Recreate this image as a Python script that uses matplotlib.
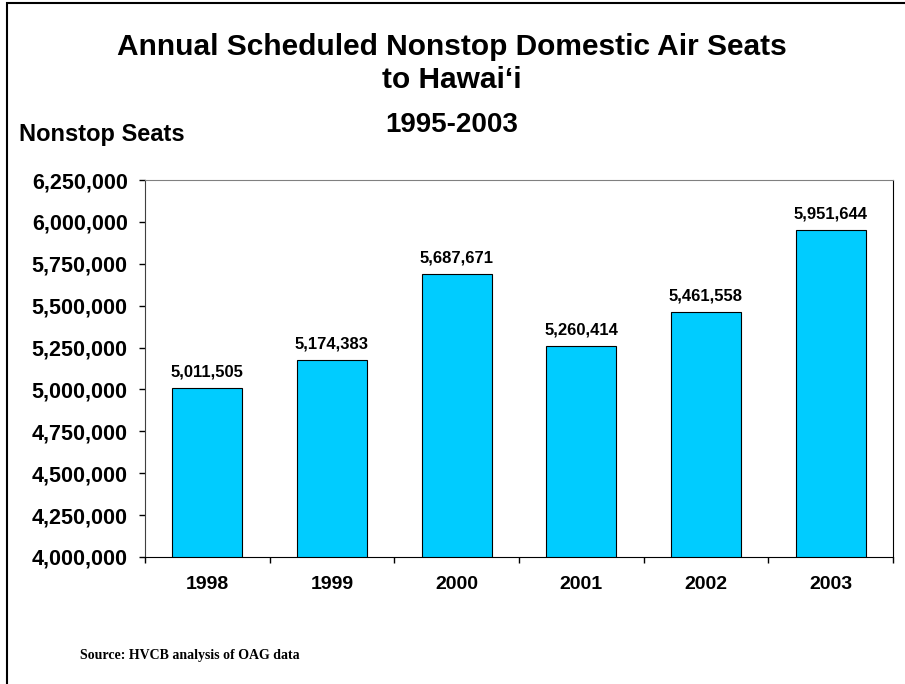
import matplotlib
matplotlib.use("Agg")
import matplotlib.pyplot as plt
from matplotlib.patches import Rectangle
from matplotlib.ticker import FuncFormatter, FixedLocator
import numpy as np

years = ["1998", "1999", "2000", "2001", "2002", "2003"]
seats = [5011505, 5174383, 5687671, 5260414, 5461558, 5951644]
yticks = np.arange(4000000, 6250001, 250000)

plt.rcParams['font.family'] = ['Liberation Sans', 'DejaVu Sans']

fig = plt.figure(figsize=(9.05, 6.84), dpi=100)
ax = fig.add_axes([145/905, 1-557/684, (893-145)/905, (557-180)/684])

x = np.arange(len(years))
bars = ax.bar(x, seats, width=0.56, color='#00CCFF', edgecolor='black', linewidth=0.8)
for xi, v in zip(x, seats):
    ax.annotate(f"{v:,}", (xi, v), xytext=(0, 6), textcoords='offset points',
                ha='center', va='bottom', fontsize=12, fontweight='bold')

ax.set_xlim(-0.5, len(years) - 0.5)
ax.set_ylim(4000000, 6250000)
ax.set_yticks(yticks)
ax.yaxis.set_major_formatter(FuncFormatter(lambda v, p: f"{int(v):,}"))
ax.tick_params(axis='y', direction='out', length=4.5, width=1, pad=8, labelsize=15.5)
for t in ax.get_yticklabels():
    t.set_fontweight('bold')

ax.set_xticks(x)
ax.set_xticklabels(years, fontsize=14, fontweight='bold')
ax.tick_params(axis='x', which='major', length=0, pad=14)
ax.xaxis.set_minor_locator(FixedLocator(np.arange(-0.5, len(years), 1.0)))
ax.tick_params(axis='x', which='minor', direction='out', length=4.5, width=1)

for s in ['left', 'bottom', 'right']:
    ax.spines[s].set_color('black')
ax.spines['top'].set_color('#808080')
ax.spines['left'].set_color('#404040')

fig.text(0.499, 0.931, "Annual Scheduled Nonstop Domestic Air Seats", ha='center', va='center',
         fontsize=21.5, fontweight='bold')
fig.text(0.499, 0.883, "to Hawai\u2018i", ha='center', va='center', fontsize=21.5, fontweight='bold')
fig.text(0.499, 0.817, "1995-2003", ha='center', va='center', fontsize=20, fontweight='bold')
fig.text(19/905, 1-135/684, "Nonstop Seats", ha='left', va='center', fontsize=17, fontweight='bold')
fig.text(80/905, 1-655/684, "Source: HVCB analysis of OAG data", ha='left', va='center',
         fontsize=10, fontweight='bold', family='Liberation Serif')

fig.patches.append(Rectangle((7/905, -0.1), 2, 1.1 - 3/684, transform=fig.transFigure,
                             fill=False, edgecolor='black', linewidth=1.5))

fig.savefig("out.png", dpi=100)
